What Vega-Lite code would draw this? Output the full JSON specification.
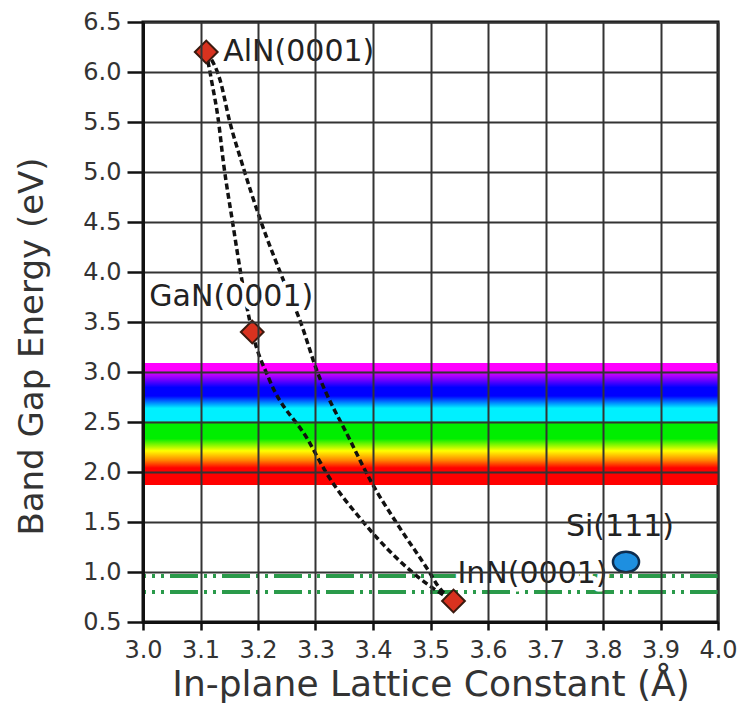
{
  "$schema": "https://vega.github.io/schema/vega-lite/v6.json",
  "width": 575,
  "height": 600,
  "autosize": {"type": "none"},
  "padding": {"left": 143, "top": 22, "right": 27, "bottom": 84},
  "background": "white",
  "config": {"view": {"stroke": "#111", "strokeWidth": 3}, "font": "DejaVu Sans"},
  "datasets": {
    "band": [{"a": 3.0, "a2": 4.0, "eg": 1.87, "eg2": 3.09}],
    "green": [{"eg": 0.96}, {"eg": 0.80}],
    "curves": [
      {"curve": "via GaN", "a": 3.11, "eg": 6.2},
      {"curve": "via GaN", "a": 3.119, "eg": 5.92},
      {"curve": "via GaN", "a": 3.131, "eg": 5.52},
      {"curve": "via GaN", "a": 3.140, "eg": 5.09},
      {"curve": "via GaN", "a": 3.156, "eg": 4.49},
      {"curve": "via GaN", "a": 3.172, "eg": 3.92},
      {"curve": "via GaN", "a": 3.19, "eg": 3.4},
      {"curve": "via GaN", "a": 3.22, "eg": 2.92},
      {"curve": "via GaN", "a": 3.287, "eg": 2.32},
      {"curve": "via GaN", "a": 3.319, "eg": 1.99},
      {"curve": "via GaN", "a": 3.383, "eg": 1.5},
      {"curve": "via GaN", "a": 3.47, "eg": 0.99},
      {"curve": "via GaN", "a": 3.499, "eg": 0.86},
      {"curve": "via GaN", "a": 3.54, "eg": 0.71},
      {"curve": "direct", "a": 3.11, "eg": 6.2},
      {"curve": "direct", "a": 3.134, "eg": 5.92},
      {"curve": "direct", "a": 3.151, "eg": 5.5},
      {"curve": "direct", "a": 3.172, "eg": 5.09},
      {"curve": "direct", "a": 3.206, "eg": 4.49},
      {"curve": "direct", "a": 3.244, "eg": 3.92},
      {"curve": "direct", "a": 3.274, "eg": 3.5},
      {"curve": "direct", "a": 3.302, "eg": 3.02},
      {"curve": "direct", "a": 3.36, "eg": 2.32},
      {"curve": "direct", "a": 3.398, "eg": 1.89},
      {"curve": "direct", "a": 3.441, "eg": 1.49},
      {"curve": "direct", "a": 3.499, "eg": 0.99},
      {"curve": "direct", "a": 3.513, "eg": 0.86},
      {"curve": "direct", "a": 3.54, "eg": 0.71}
    ],
    "points": [
      {"name": "AlN", "label": "AlN(0001)", "a": 3.11, "eg": 6.2},
      {"name": "GaN", "label": "GaN(0001)", "a": 3.19, "eg": 3.4},
      {"name": "InN", "label": "InN(0001)", "a": 3.54, "eg": 0.71},
      {"name": "Si", "label": "Si(111)", "a": 3.84, "eg": 1.1}
    ]
  },
  "layer": [
    {
      "data": {"name": "band"},
      "mark": {
        "type": "rect",
        "fill": {
          "gradient": "linear", "x1": 0, "y1": 0, "x2": 0, "y2": 1,
          "stops": [
            {"offset": 0, "color": "#ff00ff"},
            {"offset": 0.06, "color": "#ff00ff"},
            {"offset": 0.13, "color": "#8000ff"},
            {"offset": 0.2, "color": "#0000ff"},
            {"offset": 0.27, "color": "#0000ff"},
            {"offset": 0.37, "color": "#00f0ff"},
            {"offset": 0.475, "color": "#00f0ff"},
            {"offset": 0.49, "color": "#00ee00"},
            {"offset": 0.62, "color": "#00ee00"},
            {"offset": 0.72, "color": "#ffff00"},
            {"offset": 0.8, "color": "#ff8000"},
            {"offset": 0.86, "color": "#ff0000"},
            {"offset": 1, "color": "#ff0000"}
          ]
        }
      },
      "encoding": {
        "x": {
          "field": "a", "type": "quantitative",
          "title": "In-plane Lattice Constant (Å)",
          "scale": {"domain": [3.0, 4.0], "nice": false, "zero": false},
          "axis": {
            "values": [3.0, 3.1, 3.2, 3.3, 3.4, 3.5, 3.6, 3.7, 3.8, 3.9, 4.0],
            "format": ".1f",
            "grid": true, "gridColor": "#333", "gridWidth": 2, "gridOpacity": 1,
            "zindex": 1,
            "domainColor": "#111", "domainWidth": 3,
            "tickColor": "#111", "tickWidth": 2.5, "tickSize": 8,
            "labelFont": "DejaVu Sans", "labelFontSize": 24, "labelColor": "#333",
            "labelPadding": 8, "labelFlush": false, "labelOverlap": false,
            "titleFont": "DejaVu Sans", "titleFontSize": 36, "titleFontWeight": "normal",
            "titleColor": "#333", "titleY": 73, "titleBaseline": "alphabetic"
          }
        },
        "x2": {"field": "a2"},
        "y": {
          "field": "eg", "type": "quantitative",
          "title": "Band Gap Energy (eV)",
          "scale": {"domain": [0.5, 6.5], "nice": false, "zero": false},
          "axis": {
            "values": [0.5, 1.0, 1.5, 2.0, 2.5, 3.0, 3.5, 4.0, 4.5, 5.0, 5.5, 6.0, 6.5],
            "format": ".1f",
            "grid": true, "gridColor": "#333", "gridWidth": 2, "gridOpacity": 1,
            "zindex": 1,
            "domainColor": "#111", "domainWidth": 3,
            "tickColor": "#111", "tickWidth": 2.5, "tickSize": 16,
            "labelFont": "DejaVu Sans", "labelFontSize": 24, "labelColor": "#333",
            "labelPadding": 6, "labelFlush": false, "labelOverlap": false,
            "titleFont": "DejaVu Sans", "titleFontSize": 34, "titleFontWeight": "normal",
            "titleColor": "#333", "titleX": -101, "titleY": 324, "titleBaseline": "alphabetic"
          }
        },
        "y2": {"field": "eg2"}
      }
    },
    {
      "data": {"name": "green"},
      "mark": {"type": "rule", "color": "#2a9a4a", "strokeWidth": 4, "strokeDash": [28, 6, 3, 6, 3, 6]},
      "encoding": {
        "y": {"field": "eg", "type": "quantitative", "title": "Band Gap Energy (eV)"}
      }
    },
    {
      "data": {"name": "curves"},
      "mark": {"type": "line", "color": "#111", "strokeWidth": 3.5, "strokeDash": [6, 3.5], "interpolate": "monotone"},
      "encoding": {
        "x": {"field": "a", "type": "quantitative", "title": "In-plane Lattice Constant (Å)"},
        "y": {"field": "eg", "type": "quantitative", "title": "Band Gap Energy (eV)"},
        "detail": {"field": "curve"}
      }
    },
    {
      "data": {"name": "points"},
      "encoding": {
        "x": {"field": "a", "type": "quantitative", "title": "In-plane Lattice Constant (Å)"},
        "y": {"field": "eg", "type": "quantitative", "title": "Band Gap Energy (eV)"},
        "text": {"field": "label"}
      },
      "layer": [
        {
          "transform": [{"filter": "datum.name === 'AlN'"}],
          "layer": [
            {"mark": {"type": "text", "font": "DejaVu Sans", "fontSize": 30, "align": "left", "baseline": "middle", "dx": 17, "dy": 0, "stroke": "white", "strokeWidth": 9, "strokeJoin": "round", "fill": "white"}},
            {"mark": {"type": "text", "font": "DejaVu Sans", "fontSize": 30, "align": "left", "baseline": "middle", "dx": 17, "dy": 0, "fill": "#222"}}
          ]
        },
        {
          "transform": [{"filter": "datum.name === 'GaN'"}],
          "layer": [
            {"mark": {"type": "text", "font": "DejaVu Sans", "fontSize": 30, "align": "center", "baseline": "middle", "dx": -21, "dy": -35, "stroke": "white", "strokeWidth": 9, "strokeJoin": "round", "fill": "white"}},
            {"mark": {"type": "text", "font": "DejaVu Sans", "fontSize": 30, "align": "center", "baseline": "middle", "dx": -21, "dy": -35, "fill": "#222"}}
          ]
        },
        {
          "transform": [{"filter": "datum.name === 'InN'"}],
          "layer": [
            {"mark": {"type": "text", "font": "DejaVu Sans", "fontSize": 30, "align": "left", "baseline": "middle", "dx": 4, "dy": -27, "stroke": "white", "strokeWidth": 9, "strokeJoin": "round", "fill": "white"}},
            {"mark": {"type": "text", "font": "DejaVu Sans", "fontSize": 30, "align": "left", "baseline": "middle", "dx": 4, "dy": -27, "fill": "#222"}}
          ]
        },
        {
          "transform": [{"filter": "datum.name === 'Si'"}],
          "layer": [
            {"mark": {"type": "text", "font": "DejaVu Sans", "fontSize": 30, "align": "center", "baseline": "middle", "dx": -6, "dy": -35, "stroke": "white", "strokeWidth": 9, "strokeJoin": "round", "fill": "white"}},
            {"mark": {"type": "text", "font": "DejaVu Sans", "fontSize": 30, "align": "center", "baseline": "middle", "dx": -6, "dy": -35, "fill": "#222"}}
          ]
        },
        {
          "transform": [{"filter": "datum.name !== 'Si'"}],
          "mark": {"type": "point", "shape": "diamond", "filled": true, "size": 520, "fill": "#d8321f", "stroke": "#3b1a0f", "strokeWidth": 2, "opacity": 1}
        },
        {
          "transform": [{"filter": "datum.name === 'Si'"}],
          "mark": {"type": "point", "shape": "M-1,0A1,0.78,0,1,1,1,0A1,0.78,0,1,1,-1,0Z", "filled": true, "size": 680, "fill": "#1e8fe0", "stroke": "#0d2c4f", "strokeWidth": 2.5, "opacity": 1}
        }
      ]
    }
  ]
}
